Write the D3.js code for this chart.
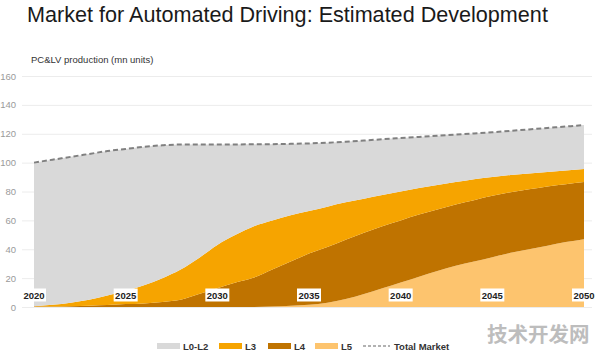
<!DOCTYPE html>
<html>
<head>
  <meta charset="utf-8">
  <title>Market for Automated Driving</title>
  <script src="https://d3js.org/d3.v7.min.js"></script>
  <style>
    body { margin: 0; background: #fff; }
    svg { font-family: "Liberation Sans", Arial, sans-serif; }
  </style>
</head>
<body>
  <svg id="chart"></svg>

  <script>
    // years on the x axis
    var years = d3.range(2020, 2051);

    // share of each level (mn units)
    var l02 = [99.5, 100.5, 101, 101, 100, 98.5, 96, 92, 86.5, 78.5, 69.5, 62.6, 56.7, 52.8, 49.5, 46.8,
               44.3, 42, 40.3, 38.7, 37, 35.3, 34.1, 32.9, 31.7, 31, 30.5, 30.5, 30.5, 30.5, 30.5];
    var l3  = [0.2, 1.1, 2.4, 4.1, 6.7, 9, 12.5, 16.5, 21, 25, 30, 33, 35.5, 34, 32, 29.5,
               28, 26, 23.5, 21.5, 20, 18.5, 17, 15.5, 14.5, 13, 12, 11, 10, 9.5, 9];
    var l4  = [0.3, 0.4, 0.6, 0.9, 1.3, 2, 2.5, 3.5, 5, 9, 13, 17, 20.5, 25.7, 30.7, 35.5,
               38.5, 41, 42.5, 43, 43, 43, 42.5, 42.5, 42.5, 42.5, 42, 41.5, 41, 40, 39.5];
    var l5  = [0, 0, 0, 0, 0, 0, 0, 0, 0, 0, 0, 0, 0, 0.3, 0.8, 1.5,
               3, 5.5, 9, 13, 17, 21, 25, 28.5, 31.5, 34.5, 37.5, 40, 42.5, 45, 47];
    var total = [100, 102, 104, 106, 108, 109.5, 111, 112, 112.5, 112.5, 112.5, 112.6, 112.7, 112.8, 113, 113.3,
                 113.8, 114.5, 115.3, 116.2, 117, 117.8, 118.6, 119.4, 120.2, 121, 122, 123, 124, 125, 126];

    var yTicks = [0, 20, 40, 60, 80, 100, 120, 140, 160];
    var xLabels = [2020, 2025, 2030, 2035, 2040, 2045, 2050];

    var keys = ["L5", "L4", "L3", "L0-L2"];
    var colors = { "L0-L2": "#d9d9d9", "L3": "#f6a400", "L4": "#bf7300", "L5": "#fdc46e" };

    var rows = years.map(function(y, i) {
      return { year: y, "L0-L2": l02[i], "L3": l3[i], "L4": l4[i], "L5": l5[i], total: total[i] };
    });

    var width = 596, height = 353;
    var svg = d3.select("#chart").attr("width", width).attr("height", height);

    var x = d3.scaleLinear().domain([2020, 2050]).range([34, 584]);
    var y = d3.scaleLinear().domain([0, 160]).range([307, 76]);

    // title
    svg.append("text")
      .attr("x", 27).attr("y", 22)
      .attr("font-size", 21.6)
      .attr("fill", "#1a1a1a")
      .text("Market for Automated Driving: Estimated Development");

    svg.append("text")
      .attr("x", 31).attr("y", 63)
      .attr("font-size", 9.5)
      .attr("fill", "#333")
      .text("PC&LV production (mn units)");

    // grid + y labels
    var yAxis = svg.append("g").attr("transform", "translate(22,0)")
      .call(d3.axisRight(y).tickValues(yTicks).tickSize(570).tickFormat(""));
    yAxis.select(".domain").remove();
    yAxis.selectAll(".tick line").attr("stroke", "#ececec");

    svg.selectAll(".ylab").data(yTicks).enter().append("text")
      .attr("class", "ylab")
      .attr("x", 16).attr("y", function(d) { return y(d) + 3.5; })
      .attr("text-anchor", "end")
      .attr("font-size", 9.5)
      .attr("fill", "#9a9a9a")
      .text(function(d) { return d; });

    // stacked areas
    var series = d3.stack().keys(keys)(rows);
    var area = d3.area()
      .curve(d3.curveMonotoneX)
      .x(function(d) { return x(d.data.year); })
      .y0(function(d) { return y(d[0]); })
      .y1(function(d) { return y(d[1]); });

    svg.selectAll(".layer").data(series).enter().append("path")
      .attr("class", "layer")
      .attr("fill", function(d) { return colors[d.key]; })
      .attr("d", area);

    // total market dashed line
    var line = d3.line()
      .curve(d3.curveMonotoneX)
      .x(function(d) { return x(d.year); })
      .y(function(d) { return y(d.total); });

    svg.append("path")
      .datum(rows)
      .attr("fill", "none")
      .attr("stroke", "#808080")
      .attr("stroke-width", 2)
      .attr("stroke-dasharray", "5,3")
      .attr("d", line);

    // year labels in white boxes
    var xl = svg.selectAll(".xlab").data(xLabels).enter().append("g")
      .attr("class", "xlab")
      .attr("transform", function(d) { return "translate(" + x(d) + ",295)"; });
    xl.append("rect")
      .attr("x", -12).attr("y", -6.5).attr("width", 24).attr("height", 13)
      .attr("fill", "#fff");
    xl.append("text")
      .attr("y", 3.5)
      .attr("text-anchor", "middle")
      .attr("font-size", 9.5)
      .attr("font-weight", "bold")
      .attr("fill", "#222")
      .text(function(d) { return d; });

    // legend
    var legendItems = [
      { name: "L0-L2", x: 157, key: "L0-L2" },
      { name: "L3", x: 219, key: "L3" },
      { name: "L4", x: 268, key: "L4" },
      { name: "L5", x: 315, key: "L5" }
    ];
    var lg = svg.append("g").attr("transform", "translate(0,346)");
    lg.selectAll("rect").data(legendItems).enter().append("rect")
      .attr("x", function(d) { return d.x; }).attr("y", -3)
      .attr("width", 23).attr("height", 6)
      .attr("fill", function(d) { return colors[d.key]; });
    lg.selectAll("text.lt").data(legendItems).enter().append("text")
      .attr("class", "lt")
      .attr("x", function(d) { return d.x + 26; }).attr("y", 3.5)
      .attr("font-size", 9.5).attr("font-weight", "bold").attr("fill", "#333")
      .text(function(d) { return d.name; });
    lg.append("line")
      .attr("x1", 363).attr("x2", 390).attr("y1", 0).attr("y2", 0)
      .attr("stroke", "#999").attr("stroke-width", 1.5).attr("stroke-dasharray", "3,2");
    lg.append("text")
      .attr("x", 394).attr("y", 3.5)
      .attr("font-size", 9.5).attr("font-weight", "bold").attr("fill", "#333")
      .text("Total Market");

    // watermark
    svg.append("text")
      .attr("x", 487).attr("y", 342)
      .attr("font-family", "'Noto Sans CJK SC', sans-serif")
      .attr("font-size", 20.5).attr("font-weight", "bold")
      .attr("fill", "#bdbdbd")
      .text("技术开发网");
  </script>
</body>
</html>
